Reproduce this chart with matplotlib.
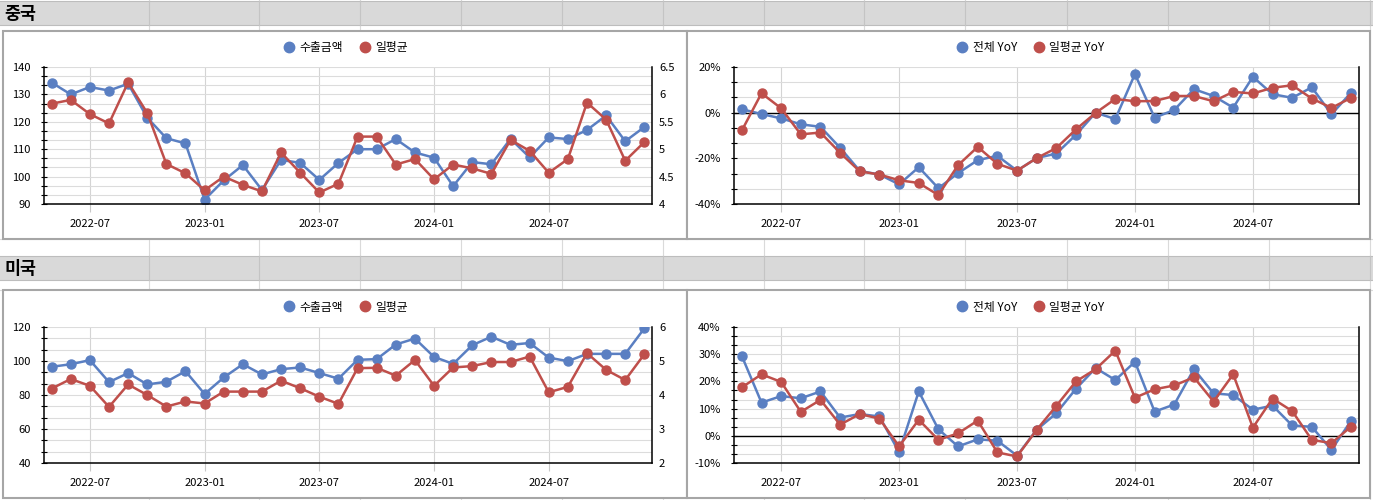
import numpy as np
import pandas as pd
import matplotlib
matplotlib.use('Agg')
import matplotlib.pyplot as plt
from matplotlib.patches import Rectangle
from matplotlib.lines import Line2D
from matplotlib.ticker import MultipleLocator, FuncFormatter

plt.rcParams['font.family'] = ['Noto Sans CJK KR', 'DejaVu Sans']

# months on the x axis
months = [p.strftime('%Y-%m') for p in pd.period_range('2022-05', '2024-12', freq='M')]

# China: export amount (left axis) and daily average (right axis)
cn_export = [134.3, 130.0, 132.7, 131.4, 133.9, 121.5, 114.0, 112.1, 91.6, 98.6, 104.2, 95.1,
             106.1, 105.0, 98.8, 105.0, 110.0, 110.0, 113.7, 108.8, 106.9, 96.5, 105.3, 104.5,
             113.8, 107.0, 114.3, 113.7, 117.0, 122.3, 112.9, 118.1]
cn_daily = [5.83, 5.90, 5.64, 5.47, 6.22, 5.66, 4.73, 4.56, 4.25, 4.50, 4.35, 4.23,
            4.94, 4.57, 4.21, 4.37, 5.23, 5.23, 4.72, 4.82, 4.45, 4.72, 4.65, 4.55,
            5.17, 4.97, 4.57, 4.82, 5.85, 5.54, 4.79, 5.13]
# China YoY (%)
cn_yoy = [1.5, -0.6, -2.5, -5.1, -6.2, -15.4, -25.5, -27.1, -31.4, -23.9, -33.1, -26.5,
          -20.8, -18.9, -25.4, -19.9, -17.9, -9.7, 0.0, -2.8, 16.9, -2.2, 1.2, 10.3,
          7.3, 2.2, 15.7, 8.1, 6.5, 11.1, -0.7, 8.8]
cn_daily_yoy = [-7.8, 8.5, 1.9, -9.5, -8.7, -17.6, -25.7, -27.1, -29.6, -30.8, -36.1, -23.0,
                -15.0, -22.4, -25.4, -19.9, -15.5, -7.3, -0.1, 6.0, 5.0, 5.1, 7.3, 7.3,
                5.0, 9.1, 8.4, 10.9, 12.0, 6.2, 2.1, 6.5]

# USA
us_export = [96.6, 98.1, 100.5, 87.6, 92.9, 86.2, 87.8, 94.0, 80.6, 90.3, 98.1, 92.1,
             95.2, 96.2, 92.9, 89.6, 100.7, 101.1, 109.7, 113.2, 102.4, 98.3, 109.3, 114.3,
             109.5, 110.6, 102.0, 99.9, 104.2, 104.2, 104.2, 119.2]
us_daily = [4.19, 4.47, 4.27, 3.65, 4.31, 4.00, 3.66, 3.81, 3.75, 4.10, 4.10, 4.10,
            4.42, 4.20, 3.95, 3.74, 4.79, 4.80, 4.57, 5.03, 4.27, 4.81, 4.85, 4.97,
            4.97, 5.13, 4.08, 4.24, 5.23, 4.74, 4.44, 5.20]
us_yoy = [29.3, 12.2, 14.6, 13.8, 16.3, 6.7, 8.0, 7.1, -6.0, 16.3, 2.4, -3.9,
          -1.3, -1.8, -7.3, 2.2, 8.3, 17.3, 24.9, 20.5, 27.2, 8.9, 11.5, 24.5,
          15.6, 15.0, 9.6, 11.1, 3.8, 3.3, -5.2, 5.6]
us_daily_yoy = [17.8, 22.6, 19.8, 8.8, 13.2, 4.1, 8.0, 6.3, -3.9, 5.9, -1.5, 0.9,
                5.6, -6.1, -7.6, 2.2, 11.0, 20.0, 24.5, 31.3, 14.0, 17.1, 18.5, 21.5,
                12.6, 22.6, 3.0, 13.7, 9.1, -1.5, -2.7, 3.4]

BLUE = '#5A7FC2'
RED = '#BF4F4B'
W, H = 1373, 500

fig = plt.figure(figsize=(W / 100, H / 100), dpi=100)
fig.patch.set_facecolor('white')

# spreadsheet background
bg = fig.add_axes([0, 0, 1, 1])
bg.set_xlim(0, W)
bg.set_ylim(H, 0)
bg.axis('off')
cols = [149, 259, 360, 461, 562, 663, 764, 864, 965, 1067, 1168, 1269, 1370]
for x in cols:
    bg.plot([x, x], [0, H], color='#DADADA', lw=0.8, zorder=1)
for y in [239, 290]:
    bg.plot([0, W], [y, y], color='#DADADA', lw=0.8, zorder=1)
for (y0, y1, title) in [(1, 25, '중국'), (256, 280, '미국')]:
    bg.add_patch(Rectangle((0, y0), W, y1 - y0, fc='#D9D9D9', ec='none', zorder=2))
    bg.plot([0, W], [y0, y0], color='#BDBDBD', lw=0.8, zorder=2.5)
    bg.plot([0, W], [y1, y1], color='#BDBDBD', lw=0.8, zorder=2.5)
    for x in cols:
        bg.plot([x, x], [y0, y1], color='#C4C4C4', lw=0.8, zorder=2.5)
    bg.text(4, (y0 + y1) / 2 + 1, title, fontsize=12.5, fontweight='bold',
            va='center', ha='left', color='black', zorder=4)
for (x0, y0, x1, y1) in [(3, 31, 687, 239), (687, 31, 1370, 239),
                         (3, 290, 687, 498), (687, 290, 1370, 498)]:
    bg.add_patch(Rectangle((x0, y0), x1 - x0, y1 - y0, fc='white', ec='#A6A6A6',
                           lw=1.5, zorder=3))


def px_axes(x0, y0, x1, y1):
    return fig.add_axes([x0 / W, 1 - y1 / H, (x1 - x0) / W, (y1 - y0) / H])


idx = np.arange(len(months))


def style(ax, lo, hi, step, fmt):
    ax.set_xlim(-0.4, len(months) - 0.6)
    ax.set_ylim(lo, hi)
    ax.set_yticks(np.arange(lo, hi + step / 2, step))
    ax.yaxis.set_minor_locator(MultipleLocator(step / 3))
    ax.yaxis.set_major_formatter(FuncFormatter(fmt))
    ax.set_xticks(idx[2::6])
    ax.set_xticklabels([months[i] for i in idx[2::6]])
    ax.set_axisbelow(True)
    ax.grid(axis='y', which='both', color='#DCDCDC', lw=0.8)
    ax.grid(axis='x', which='major', color='#D4D4D4', lw=0.8)
    ax.tick_params(axis='x', direction='out', length=6, width=0.8, color='#C8C8C8',
                   pad=5, labelsize=8)
    ax.tick_params(axis='y', which='both', direction='inout', length=5, width=0.8,
                   color='black', pad=7, labelsize=8)
    ax.spines['top'].set_visible(False)
    for s in ['left', 'bottom', 'right']:
        ax.spines[s].set_color('black')
        ax.spines[s].set_linewidth(1.1)
    ax.set_facecolor('none')


def add_legend(ax, labels, cx, cy):
    handles = [Line2D([], [], ls='none', marker='o', ms=7.5, color=c) for c in (BLUE, RED)]
    ax.legend(handles, labels, loc='center', bbox_to_anchor=(cx / W, 1 - cy / H),
              bbox_transform=fig.transFigure, ncol=2, frameon=False, fontsize=8.5,
              handletextpad=0.3, columnspacing=1.2, handlelength=1.2)


line_kw = dict(lw=1.8, marker='o', ms=6.5)

# level charts (left column)
level_specs = [
    (cn_export, cn_daily, (90, 140, 10), (4, 6.5, 0.5), 67, 204, 48),
    (us_export, us_daily, (40, 120, 20), (2, 6, 1), 327, 463, 307),
]
for exp, daily, ylim1, ylim2, top, bottom, ly in level_specs:
    ax = px_axes(44, top, 652, bottom)
    style(ax, *ylim1, lambda v, p: f'{v:.0f}')
    ax.plot(idx, exp, color=BLUE, **line_kw)
    ax2 = ax.twinx()
    ax2.set_ylim(ylim2[0], ylim2[1])
    ax2.set_yticks(np.arange(ylim2[0], ylim2[1] + ylim2[2] / 2, ylim2[2]))
    ax2.yaxis.set_major_formatter(FuncFormatter(lambda v, p: f'{v:g}'))
    ax2.tick_params(axis='y', length=0, pad=5, labelsize=8)
    for s in ax2.spines.values():
        s.set_visible(False)
    ax2.plot(idx, daily, color=RED, **line_kw)
    add_legend(ax2, ['수출금액', '일평균'], 345, ly)

# YoY charts (right column)
yoy_specs = [
    (cn_yoy, cn_daily_yoy, (-40, 20, 20), 67, 204, 48),
    (us_yoy, us_daily_yoy, (-10, 40, 10), 327, 463, 307),
]
for total, daily, ylim, top, bottom, ly in yoy_specs:
    ax = px_axes(734, top, 1359, bottom)
    style(ax, *ylim, lambda v, p: f'{v:.0f}%')
    ax.axhline(0, color='black', lw=1.0, zorder=1.5)
    ax.plot(idx, total, color=BLUE, **line_kw)
    ax.plot(idx, daily, color=RED, **line_kw)
    add_legend(ax, ['전체 YoY', '일평균 YoY'], 1030, ly)

fig.savefig('out.png', dpi=100)
